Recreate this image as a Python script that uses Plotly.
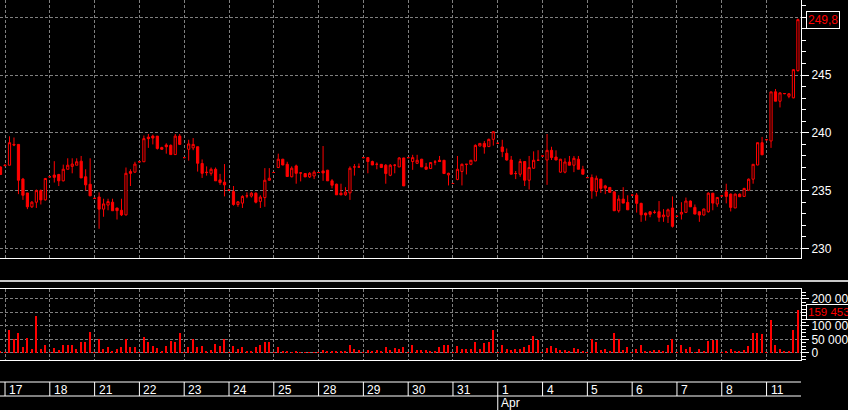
import plotly.graph_objects as go

# ---------------- data ----------------
open_ = [237.05,
 237.2, 237.2, 239.0, 239.0, 236.0, 234.8, 233.6, 234.0, 235.0, 234.2,
 236.2, 236.35, 236.4, 235.85, 236.85, 237.1, 237.2, 237.55, 236.2, 235.55,
 234.33, 234.45, 233.4, 233.75, 234.0, 233.5, 233.3, 232.9, 236.65, 236.6,
 237.5, 237.5, 239.63, 239.72, 239.72, 238.73, 238.95, 238.92, 238.12, 239.72,
 237.86, 238.58, 238.7, 238.8, 237.35, 236.6, 236.5, 236.85, 235.93, 235.73,
 235.04, 234.93, 233.8, 233.92, 234.55, 234.53, 234.78, 234.07, 234.4, 235.9,
 236.57, 237.0, 237.72, 237.28, 236.2, 237.14, 236.53, 236.48, 236.19, 236.27,
 236.57, 236.71, 236.77, 235.85, 235.56, 234.78, 234.64, 234.81, 237.05, 237.05,
 237.86, 237.86, 237.52, 237.28, 237.28, 237.2, 236.33, 237.2, 237.05, 237.83,
 237.86, 237.52, 237.37, 237.72, 237.05, 236.91, 237.48, 237.63, 237.63, 236.36,
 235.62, 235.97, 236.66, 237.28, 237.28, 237.57, 238.86, 239.09, 238.81, 239.44,
 239.1, 238.78, 238.23, 237.65, 236.48, 236.42, 237.52, 235.9, 236.94, 237.63,
 238.0, 237.65, 238.49, 237.91, 236.6, 236.6, 237.48, 237.2, 237.72, 236.85,
 236.13, 236.13, 234.93, 236.0, 235.41, 235.28, 234.9, 233.26, 234.27, 233.98,
 234.61, 234.61, 233.9, 233.05, 233.17, 233.12, 233.17, 232.74, 232.78, 233.5,
 232.78, 232.97, 233.12, 234.1, 233.55, 233.17, 232.89, 233.17, 234.78, 233.84,
 234.55, 234.9, 234.7, 233.5, 234.7, 234.5, 235.04, 235.99, 237.22, 239.15,
 239.41, 239.3, 243.55, 242.74, 243.4, 243.17, 243.03, 245.39]
high = [237.1,
 237.3, 239.7, 239.6, 239.0, 236.1, 234.8, 234.1, 235.1, 235.1, 236.1,
 236.25, 237.55, 236.45, 237.25, 237.8, 237.8, 237.8, 238.0, 236.85, 237.8,
 234.4, 234.85, 234.3, 234.3, 234.3, 233.5, 234.3, 237.0, 236.85, 237.5,
 237.55, 239.77, 239.9, 239.85, 239.72, 238.8, 239.1, 239.0, 239.9, 239.9,
 237.9, 239.4, 239.55, 238.8, 237.7, 237.1, 237.0, 237.0, 236.45, 237.3,
 235.1, 235.4, 234.1, 234.6, 234.85, 234.9, 234.85, 234.6, 236.95, 236.95,
 236.6, 238.2, 237.75, 237.5, 237.1, 237.25, 236.55, 236.5, 236.6, 236.75,
 236.6, 238.86, 236.8, 236.0, 235.6, 235.6, 235.3, 237.1, 237.3, 237.35,
 237.9, 237.9, 237.6, 237.45, 237.3, 237.3, 237.3, 237.3, 237.9, 237.85,
 237.9, 238.1, 238.1, 237.75, 237.4, 237.45, 237.65, 238.0, 237.65, 236.55,
 235.65, 238.0, 237.35, 237.3, 237.65, 239.0, 239.1, 239.3, 239.5, 240.15,
 239.15, 239.4, 238.65, 238.0, 236.7, 237.75, 237.55, 238.0, 238.4, 238.5,
 238.05, 239.9, 238.8, 238.49, 237.75, 237.8, 238.0, 238.0, 238.0, 237.15,
 236.15, 236.4, 236.3, 236.0, 235.5, 235.3, 234.9, 234.6, 235.3, 234.6,
 234.65, 234.8, 233.95, 233.1, 233.2, 233.3, 234.1, 233.4, 233.45, 234.5,
 232.8, 234.0, 234.4, 234.15, 233.8, 233.2, 233.45, 234.85, 234.8, 234.45,
 234.6, 235.6, 234.75, 234.75, 234.75, 235.25, 236.05, 237.3, 239.15, 239.65,
 239.45, 243.55, 243.8, 243.5, 243.45, 243.45, 245.5, 249.9]
low = [236.4,
 237.1, 237.2, 238.85, 234.7, 234.2, 233.4, 233.5, 233.5, 233.8, 234.15,
 236.15, 235.7, 235.4, 235.8, 236.85, 236.5, 237.2, 236.1, 235.0, 234.55,
 234.3, 231.7, 232.74, 233.3, 233.26, 232.5, 232.8, 232.85, 235.4, 236.55,
 237.45, 237.5, 238.7, 239.0, 238.55, 238.55, 238.2, 238.12, 238.12, 239.0,
 237.8, 237.6, 238.5, 236.65, 236.1, 236.3, 236.3, 235.85, 235.5, 234.5,
 235.0, 233.7, 233.6, 233.5, 234.35, 234.4, 233.9, 233.5, 233.6, 235.85,
 236.55, 236.95, 237.2, 236.2, 236.15, 235.6, 235.8, 236.19, 236.1, 236.0,
 236.55, 235.85, 235.85, 235.2, 234.64, 234.6, 234.55, 234.2, 236.3, 237.0,
 237.8, 236.5, 237.22, 236.85, 237.0, 235.6, 236.25, 236.5, 237.05, 235.41,
 237.8, 236.8, 237.3, 237.05, 236.85, 236.9, 237.2, 237.5, 236.48, 235.45,
 235.6, 235.9, 235.45, 236.4, 237.2, 237.55, 238.85, 238.2, 238.8, 238.9,
 239.05, 237.9, 237.6, 236.42, 236.0, 236.2, 235.4, 235.1, 236.9, 237.6,
 237.95, 235.5, 237.65, 237.65, 236.55, 236.5, 237.2, 236.6, 236.85, 236.42,
 236.1, 234.3, 234.5, 234.8, 234.7, 234.85, 233.26, 233.1, 233.92, 233.34,
 234.55, 233.1, 232.3, 232.4, 232.7, 233.0, 232.3, 232.3, 232.2, 231.8,
 232.75, 232.5, 233.1, 233.6, 232.97, 232.3, 232.85, 233.1, 233.3, 233.6,
 234.5, 233.9, 233.2, 233.5, 234.45, 234.45, 235.0, 235.6, 237.2, 238.1,
 239.35, 238.7, 242.74, 242.2, 243.35, 243.0, 243.0, 245.3]
close = [236.4,
 237.17, 239.15, 238.95, 235.9, 234.6, 233.6, 234.0, 235.0, 234.2, 236.05,
 236.2, 236.15, 235.85, 236.85, 237.2, 237.3, 237.5, 236.1, 235.5, 234.55,
 234.33, 233.4, 233.85, 234.05, 233.26, 233.27, 232.9, 236.5, 236.5, 237.3,
 237.5, 239.5, 239.5, 239.55, 238.65, 238.58, 238.8, 238.12, 239.72, 239.0,
 237.86, 239.04, 239.0, 237.37, 236.5, 236.57, 236.85, 235.85, 235.7, 235.5,
 235.04, 233.8, 234.03, 234.5, 234.55, 234.78, 234.0, 234.44, 235.9, 236.07,
 236.57, 237.72, 237.22, 236.22, 236.94, 236.5, 236.53, 236.19, 236.5, 236.6,
 236.57, 236.53, 235.85, 235.47, 234.64, 234.64, 234.87, 236.94, 237.05, 237.05,
 237.86, 237.52, 237.22, 237.28, 237.0, 236.48, 237.2, 237.2, 237.83, 235.41,
 237.86, 237.86, 237.63, 237.05, 236.85, 237.43, 237.48, 237.52, 236.48, 236.5,
 235.62, 236.85, 237.28, 237.28, 237.63, 238.92, 239.09, 238.78, 239.44, 240.1,
 239.1, 238.38, 237.65, 236.42, 236.48, 237.52, 235.9, 237.0, 237.63, 237.63,
 238.0, 238.49, 237.86, 237.65, 237.72, 237.48, 237.2, 237.8, 236.85, 236.42,
 236.13, 234.98, 236.07, 235.2, 235.22, 234.85, 233.26, 234.27, 233.92, 233.34,
 234.61, 233.9, 232.91, 232.89, 232.95, 233.12, 232.69, 232.89, 233.34, 231.91,
 232.78, 233.12, 234.1, 233.6, 232.97, 232.89, 233.41, 234.78, 233.92, 234.41,
 234.55, 234.5, 233.55, 234.7, 234.47, 235.19, 235.99, 237.28, 239.15, 238.1,
 239.41, 243.55, 242.74, 243.46, 243.4, 243.38, 245.47, 249.8]
volume = [5000,
 3000, 84700, 50000, 74600, 22400, 54800, 16400, 138000, 16400, 28700,
 2000, 20000, 10000, 28700, 28700, 28700, 13800, 41000, 41000, 78400,
 2000, 50000, 16400, 22400, 7500, 13800, 22400, 50000, 22400, 22400,
 2000, 59700, 41000, 26000, 18700, 8700, 26000, 43500, 41000, 74600,
 2000, 22400, 51000, 22400, 26000, 8700, 10000, 32000, 26000, 51000,
 2000, 26000, 13800, 22400, 8700, 6000, 22000, 30700, 39300, 39300,
 1500, 21000, 8600, 5000, 2500, 6000, 1500, 2500, 2500, 2500,
 1500, 12300, 6000, 6000, 6000, 6000, 6000, 30700, 16000, 9800,
 1500, 12300, 8600, 12300, 6000, 21000, 12300, 18400, 16000, 21000,
 1500, 30700, 12300, 12300, 12300, 8600, 8600, 21000, 30700, 28300,
 1500, 24600, 16000, 16000, 16000, 39300, 16000, 36900, 39300, 83600,
 1500, 30700, 16000, 12300, 16000, 16000, 21000, 30700, 61500, 46700,
 1500, 18400, 24600, 18400, 12300, 12300, 8600, 18400, 16000, 8600,
 1500, 51600, 39300, 12300, 16000, 8600, 72500, 51600, 12300, 21000,
 1500, 16000, 28300, 8600, 6000, 12300, 12300, 8600, 30700, 51600,
 1500, 30700, 16000, 21000, 2500, 16000, 6000, 43000, 49800, 47000,
 1500, 6200, 16000, 6200, 6200, 10000, 25000, 74600, 74600, 69700,
 1500, 122000, 28600, 16000, 6200, 6200, 84600, 159453]

# trading sessions shown on the date strip (first partial session "16" has 1 candle)
lead_candles = 1
day_labels = ["17", "18", "21", "22", "23", "24", "25", "28", "29", "30", "31",
              "1", "4", "5", "6", "7", "8", "11"]
candles_per_day = [10, 10, 10, 10, 10, 10, 10, 10, 10, 10, 10,
                   10, 10, 10, 10, 10, 10, 8]
month_label = "Apr"
month_first_day = "1"

price_tickvals = [230, 235, 240, 245, 250]
price_ticktext = ["230", "235", "240", "245", ""]   # 250 is hidden by the last-price box
vol_tickvals = [0, 50000, 100000, 150000, 200000]
vol_ticktext = ["0", "50 000", "100 000", "", "200 000"]  # 150 000 hidden by the last-volume box
last_price_text = "249,8"
last_volume_text = "159 453"

# ---------------- derived ----------------
x = list(range(len(close)))
day_starts = []
pos = lead_candles
for n in candles_per_day:
    day_starts.append(pos)
    pos += n

W, H = 848, 410
RED = "#ff0000"
GRID = "#7f7f7f"
FONT = dict(family="Liberation Sans, Arial, sans-serif", size=12, color="white")

def py(pix):  # pixel row -> paper y
    return 1 - pix / H

x_right = 801 / W

fig = go.Figure()
fig.add_trace(go.Candlestick(
    x=x, open=open_, high=high, low=low, close=close,
    increasing=dict(line=dict(color=RED, width=1), fillcolor="black"),
    decreasing=dict(line=dict(color=RED, width=1), fillcolor=RED),
    xaxis="x", yaxis="y", showlegend=False, hoverinfo="skip"))
fig.add_trace(go.Bar(
    x=x, y=volume, width=0.32, marker=dict(color=RED, line=dict(width=0)),
    xaxis="x2", yaxis="y2", showlegend=False, hoverinfo="skip"))

xrange = [-0.12, len(close) - 1 + 0.69]
common_x = dict(range=xrange, tickmode="array", tickvals=day_starts,
                showticklabels=False, ticks="", showgrid=True, gridcolor=GRID,
                griddash="3px,2px", gridwidth=1, zeroline=False,
                showline=True, linecolor="white", linewidth=1,
                domain=[0, x_right], rangeslider=dict(visible=False))

fig.update_layout(
    width=W, height=H, margin=dict(l=0, r=0, t=0, b=0, autoexpand=False),
    paper_bgcolor="black", plot_bgcolor="black", font=FONT,
    showlegend=False, bargap=0,
    xaxis=dict(**common_x, anchor="y"),
    xaxis2=dict(**common_x, anchor="y2", matches="x", mirror=True),
    yaxis=dict(domain=[py(258), 1], range=[229.17, 251.5], side="right",
               tickvals=price_tickvals, ticktext=price_ticktext,
               ticks="outside", ticklen=7,
               tickcolor="white", showline=True, linecolor="white",
               linewidth=1, showgrid=True, gridcolor=GRID,
               griddash="3px,2px", zeroline=False, tickfont=FONT,
               minor=dict(dtick=1, tick0=230, ticks="outside", ticklen=4,
                          tickcolor="white", showgrid=False)),
    yaxis2=dict(domain=[py(360), py(289)], range=[-26000, 237000],
                side="right", anchor="x2",
                tickvals=vol_tickvals, ticktext=vol_ticktext,
                ticks="outside", ticklen=7, tickcolor="white",
                showline=True, linecolor="white", linewidth=1,
                showgrid=True, gridcolor=GRID, griddash="3px,2px",
                zeroline=False, tickfont=FONT,
                minor=dict(dtick=12500, tick0=0, ticks="outside", ticklen=4,
                           tickcolor="white", showgrid=False)),
)

shapes = []
# separator between price and volume panels
shapes.append(dict(type="line", xref="paper", yref="paper", x0=0, x1=1,
                   y0=py(281), y1=py(281), line=dict(color="#c8c8c8", width=2)))
# date strip
for ypix in (382, 396):
    shapes.append(dict(type="line", xref="paper", yref="paper", x0=0, x1=x_right,
                       y0=py(ypix), y1=py(ypix), line=dict(color="white", width=1)))
for s in day_starts:
    shapes.append(dict(type="line", xref="x", yref="paper", x0=s, x1=s,
                       y0=py(396), y1=py(382), line=dict(color="white", width=1)))
month_x = day_starts[day_labels.index(month_first_day)]
shapes.append(dict(type="line", xref="x", yref="paper", x0=month_x, x1=month_x,
                   y0=0, y1=py(396), line=dict(color="white", width=1)))
fig.update_layout(shapes=shapes)

ann = []
for s, lab in zip(day_starts, day_labels):
    ann.append(dict(x=s, xref="x", y=py(389.5), yref="paper", text=lab,
                    showarrow=False, xanchor="left", yanchor="middle",
                    xshift=2, font=FONT))
ann.append(dict(x=month_x, xref="x", y=py(403), yref="paper", text=month_label,
                showarrow=False, xanchor="left", yanchor="middle", xshift=1,
                font=FONT))
ann.append(dict(x=806 / W, xref="paper", y=py(20), yref="paper",
                text=last_price_text, showarrow=False, xanchor="left",
                yanchor="middle", bgcolor="black", bordercolor="white",
                borderwidth=1, borderpad=1,
                font=dict(family=FONT["family"], size=12, color=RED)))
ann.append(dict(x=806 / W, xref="paper", y=py(312), yref="paper",
                text=last_volume_text, showarrow=False, xanchor="left",
                yanchor="middle", bgcolor="black", bordercolor="white",
                borderwidth=1, borderpad=1,
                font=dict(family=FONT["family"], size=11.5, color=RED)))
fig.update_layout(annotations=ann)

fig.write_html("out.html", config={"displayModeBar": False},
               post_script="document.body.style.margin='0';")
